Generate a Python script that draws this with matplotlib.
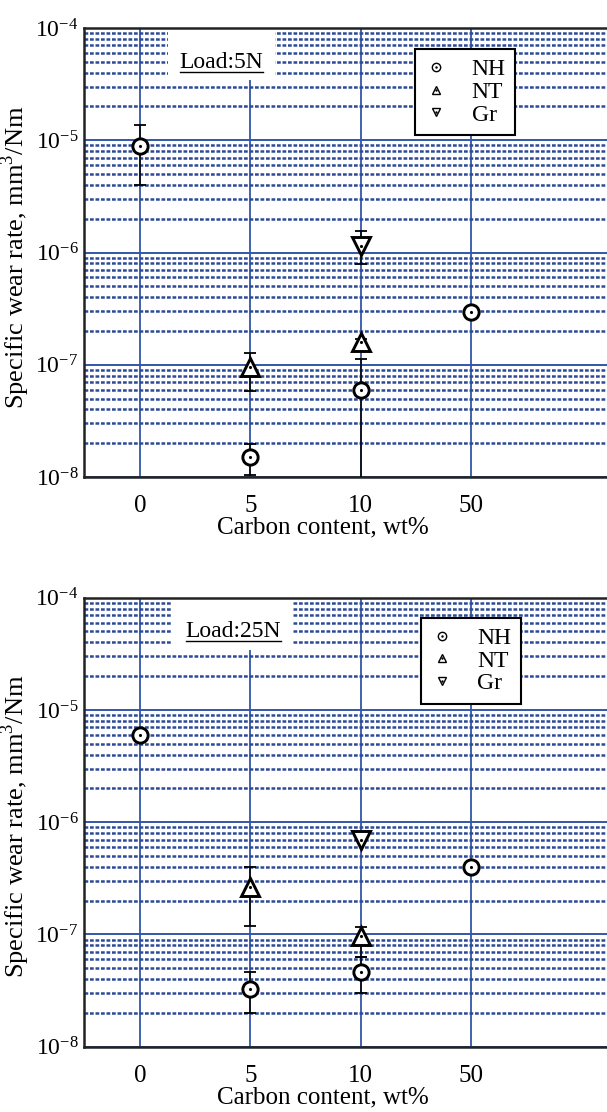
import matplotlib

matplotlib.use("Agg")

import matplotlib.pyplot as plt
from matplotlib.lines import Line2D
from matplotlib.patches import Rectangle
from matplotlib.ticker import LogLocator, NullFormatter

plt.rcParams["font.family"] = ["Liberation Serif", "DejaVu Serif"]
plt.rcParams["mathtext.fontset"] = "custom"
plt.rcParams["mathtext.rm"] = "Liberation Serif"

carbon_labels = ["0", "5", "10", "50"]

# Load 5 N -- values with lower / upper error-bar limits
nh_5n_x = [0, 1, 2, 3]
nh_5n = [8.9e-6, 1.5e-8, 6.0e-8, 2.93e-7]
nh_5n_lo = [4.0e-6, 1.04e-8, 8.0e-9, 2.93e-7]
nh_5n_hi = [1.36e-5, 1.96e-8, 1.12e-7, 2.93e-7]

nt_5n_x = [1, 2]
nt_5n = [9.6e-8, 1.6e-7]
nt_5n_lo = [5.9e-8, 1.5e-7]
nt_5n_hi = [1.27e-7, 1.7e-7]

gr_5n_x = [2]
gr_5n = [1.155e-6]
gr_5n_lo = [7.97e-7]
gr_5n_hi = [1.57e-6]

# Load 25 N
nh_25n_x = [0, 1, 2, 3]
nh_25n = [5.97e-6, 3.3e-8, 4.65e-8, 4.0e-7]
nh_25n_lo = [5.97e-6, 2.0e-8, 3.0e-8, 4.0e-7]
nh_25n_hi = [5.97e-6, 4.65e-8, 6.3e-8, 4.0e-7]

nt_25n_x = [1, 2]
nt_25n = [2.66e-7, 9.65e-8]
nt_25n_lo = [1.2e-7, 6.3e-8]
nt_25n_hi = [4.0e-7, 1.16e-7]

gr_25n_x = [2]
gr_25n = [6.9e-7]
gr_25n_lo = [6.9e-7]
gr_25n_hi = [6.9e-7]

GRID_BLUE = "#3257a8"
MINOR_BLUE = "#2c4a98"
MARKERS = {"NH": ("o", 11), "NT": ("^", 13), "Gr": ("v", 13)}


def draw_series(ax, name, x, y, lo, hi):
    marker, size = MARKERS[name]
    yerr = [[v - l for v, l in zip(y, lo)], [h - v for v, h in zip(y, hi)]]
    ax.errorbar(x, y, yerr=yerr, fmt="none", ecolor="black", elinewidth=1.1,
                capsize=4, capthick=1.3, zorder=4)
    ax.plot(x, y, linestyle="none", marker=marker, markersize=size,
            markerfacecolor="white", markeredgecolor="black",
            markeredgewidth=2.1, zorder=5)
    ax.plot(x, y, linestyle="none", marker=".", markersize=2.5,
            color="black", zorder=6)


def setup_panel(fig, ax, load_text, text_x, box_x):
    ax.set_yscale("log")
    ax.set_ylim(1e-8, 1e-4)
    ax.set_xlim(-0.508, 4.234)
    ax.set_xticks(range(len(carbon_labels)))
    ax.set_xticklabels(carbon_labels)
    ax.yaxis.set_major_locator(LogLocator(base=10, numticks=10))
    ax.yaxis.set_minor_locator(LogLocator(base=10, subs=range(2, 10), numticks=20))
    ax.yaxis.set_minor_formatter(NullFormatter())
    ax.tick_params(axis="both", which="both", length=0, labelsize=18)
    ax.tick_params(axis="y", labelsize=17, pad=4)
    ax.tick_params(axis="x", pad=13)

    ax.grid(True, axis="x", which="major", color=GRID_BLUE, linewidth=1.3)
    ax.grid(True, axis="y", which="major", color=GRID_BLUE, linewidth=1.4)
    ax.grid(True, axis="y", which="minor", color=MINOR_BLUE, linewidth=1.8,
            linestyle=(0, (1.5, 0.7)))

    for side in ("left", "bottom", "top"):
        ax.spines[side].set_linewidth(1.8)
        ax.spines[side].set_color("#222222")
    ax.spines["right"].set_visible(False)

    ax.set_xlabel("Carbon content, wt%", fontsize=18)
    ax.xaxis.set_label_coords(0.457, -0.088)
    ax.set_ylabel("Specific wear rate, mm$^3$/Nm", fontsize=19)
    ax.yaxis.set_label_coords(-0.1, 0.49)

    # white patch that clears the grid behind the load annotation
    ax.add_patch(Rectangle((box_x[0], 0.884), box_x[1] - box_x[0], 0.116,
                           transform=ax.transAxes, facecolor="white",
                           edgecolor="none", zorder=2))
    txt = ax.text(text_x, 0.924, load_text, transform=ax.transAxes,
                  ha="center", va="center", fontsize=17, zorder=3)
    fig.canvas.draw()
    bb = txt.get_window_extent().transformed(ax.transAxes.inverted())
    ax.plot([bb.x0, bb.x1], [bb.y0 + 0.002, bb.y0 + 0.002], color="black",
            linewidth=1.0, transform=ax.transAxes, zorder=3)


def add_legend(ax, anchor):
    handles = []
    for name, (marker, _) in MARKERS.items():
        ring = Line2D([], [], linestyle="none", marker=marker, markersize=6,
                      markerfacecolor="white", markeredgecolor="black",
                      markeredgewidth=1.0)
        dot = Line2D([], [], linestyle="none", marker=".", markersize=1.5,
                     color="black")
        handles.append((ring, dot))
    leg = ax.legend(handles, list(MARKERS), loc="upper left",
                    bbox_to_anchor=anchor, borderaxespad=0, fontsize=17,
                    frameon=True, fancybox=False, handlelength=1.0,
                    handletextpad=1.0, labelspacing=0.05, borderpad=0.4,
                    edgecolor="black", framealpha=1)
    leg.get_frame().set_linewidth(1.5)
    leg.set_zorder(7)


fig = plt.figure(figsize=(6.07, 11.12), dpi=100)
ax_top = fig.add_axes([0.1384, 0.571, 0.8616, 0.4038])
ax_bot = fig.add_axes([0.1384, 0.0587, 0.8616, 0.4038])

draw_series(ax_top, "NH", nh_5n_x, nh_5n, nh_5n_lo, nh_5n_hi)
draw_series(ax_top, "NT", nt_5n_x, nt_5n, nt_5n_lo, nt_5n_hi)
draw_series(ax_top, "Gr", gr_5n_x, gr_5n, gr_5n_lo, gr_5n_hi)
setup_panel(fig, ax_top, "Load:5N", 0.263, (0.161, 0.365))
add_legend(ax_top, (0.633, 0.953))

draw_series(ax_bot, "NH", nh_25n_x, nh_25n, nh_25n_lo, nh_25n_hi)
draw_series(ax_bot, "NT", nt_25n_x, nt_25n, nt_25n_lo, nt_25n_hi)
draw_series(ax_bot, "Gr", gr_25n_x, gr_25n, gr_25n_lo, gr_25n_hi)
setup_panel(fig, ax_bot, "Load:25N", 0.286, (0.168, 0.40))
add_legend(ax_bot, (0.644, 0.955))

fig.savefig("out.png", dpi=100)
plt.close(fig)
